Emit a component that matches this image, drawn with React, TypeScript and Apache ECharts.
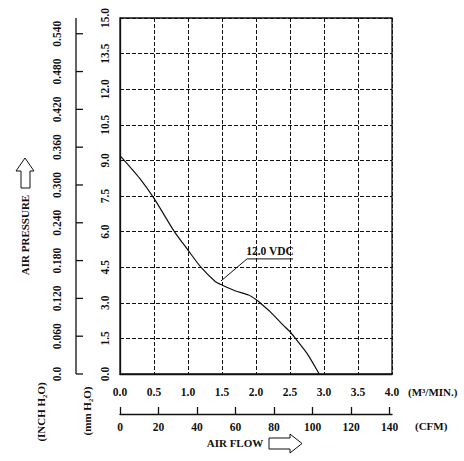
import React, { useEffect, useRef } from "react";
import * as echarts from "echarts";

// Air flow in M³/MIN along the fan curve, and the static pressure in mm H₂O
const flowM3 = [0, 0.29, 0.5, 0.8, 1.0, 1.19, 1.4, 1.5, 1.69, 1.89, 2.0, 2.06, 2.21, 2.4, 2.5, 2.58, 2.75, 2.93];
const pressureMm = [9.2, 8.24, 7.4, 6.0, 5.22, 4.5, 3.9, 3.75, 3.51, 3.33, 3.14, 3.0, 2.62, 2.06, 1.78, 1.5, 0.87, 0];

// Leader line for the voltage callout (flow, pressure)
const calloutFlow = [1.485, 1.868, 2.544];
const calloutPressure = [3.92, 4.85, 4.85];
const calloutLabelAt = [2.206, 4.85];
const calloutText = "12.0 VDC";

// Axis scales
const flowMax = 4.0;
const flowStep = 0.5;
const pressureMax = 15.0;
const pressureStep = 1.5;
const mmTicks = [0, 1.5, 3.0, 4.5, 6.0, 7.5, 9.0, 10.5, 12.0, 13.5, 15.0];
const inchTicks = [0, 0.06, 0.12, 0.18, 0.24, 0.3, 0.36, 0.42, 0.48, 0.54];
const inchMax = 0.565;
const cfmTicks = [0, 20, 40, 60, 80, 100, 120, 140];
const cfmMax = 141.26;

const FONT = "'Liberation Serif', 'Times New Roman', serif";
const INK = "#111";
const MM_LABEL_X = 105;
const INCH_LABEL_X = 57;
const INCH_AXIS_X = 76;

export default function App() {
  const ref = useRef<HTMLDivElement>(null);

  useEffect(() => {
    if (!ref.current) return;
    const chart = echarts.init(ref.current, undefined, { renderer: "svg" });

    const labelStyle = {
      color: INK,
      fontFamily: FONT,
      fontWeight: "bold" as const,
      fontSize: 11.5,
    };

    const curve = flowM3.map((x, i) => [x, pressureMm[i]]);
    const callout = calloutFlow.map((x, i) => [x, calloutPressure[i]]);

    const textStyle = (text: string, align: string, size = 11) => ({
      text,
      fill: INK,
      font: `bold ${size}px ${FONT}`,
      align,
      verticalAlign: "middle",
    });

    const baseGraphic: any[] = [
      {
        type: "text",
        x: 25,
        y: 235,
        rotation: Math.PI / 2,
        style: textStyle("AIR PRESSURE", "center"),
      },
      {
        type: "polygon",
        shape: {
          points: [
            [25, 158],
            [34, 171],
            [30, 171],
            [30, 188],
            [21, 188],
            [21, 171],
            [16, 171],
          ],
        },
        style: { fill: "#fff", stroke: INK, lineWidth: 1 },
      },
      {
        type: "text",
        x: 41,
        y: 412,
        rotation: Math.PI / 2,
        style: textStyle("(INCH H₂O)", "center"),
      },
      {
        type: "text",
        x: 87,
        y: 411,
        rotation: Math.PI / 2,
        style: textStyle("(mm H₂O)", "center"),
      },
      {
        type: "text",
        x: 408,
        y: 392,
        style: textStyle("(M³/MIN.)", "left"),
      },
      {
        type: "text",
        x: 415,
        y: 426,
        style: textStyle("(CFM)", "left"),
      },
      {
        type: "text",
        x: 235,
        y: 443,
        style: textStyle("AIR FLOW", "center"),
      },
      {
        type: "polygon",
        shape: {
          points: [
            [269, 438],
            [290, 438],
            [290, 434],
            [302, 443.5],
            [290, 453],
            [290, 449],
            [269, 449],
          ],
        },
        style: { fill: "#fff", stroke: INK, lineWidth: 1 },
      },
    ];

    try {
      chart.setOption({
        animation: false,
        backgroundColor: "#fff",
        grid: [
          {
            left: 120,
            top: 18,
            width: 272,
            height: 356,
            show: true,
            borderColor: INK,
            borderWidth: 1.3,
            backgroundColor: "transparent",
          },
          // narrow strip carrying the INCH H₂O scale
          { left: INCH_AXIS_X, top: 18, width: 10, height: 356, show: false },
        ],
        xAxis: [
          {
            type: "value",
            gridIndex: 0,
            min: 0,
            max: flowMax,
            interval: flowStep,
            position: "bottom",
            axisLine: { show: true, onZero: false, lineStyle: { color: INK, width: 1.3 } },
            axisTick: { show: false },
            axisLabel: {
              ...labelStyle,
              margin: 12,
              formatter: (v: number) => v.toFixed(1),
            },
            splitLine: {
              show: true,
              lineStyle: { color: INK, type: [4, 2], width: 1 },
            },
          },
          {
            type: "value",
            gridIndex: 0,
            min: 0,
            max: cfmMax,
            position: "bottom",
            offset: 40,
            axisLine: { show: true, onZero: false, lineStyle: { color: INK, width: 1.3 } },
            axisTick: {
              show: true,
              inside: true,
              length: 7,
              customValues: cfmTicks,
              lineStyle: { color: INK, width: 1.3 },
            },
            axisLabel: {
              ...labelStyle,
              margin: 7,
              customValues: cfmTicks,
              formatter: (v: number) => String(v),
            },
            splitLine: { show: false },
          },
          {
            type: "value",
            gridIndex: 1,
            min: 0,
            max: 1,
            show: false,
          },
        ],
        yAxis: [
          {
            type: "value",
            gridIndex: 0,
            min: 0,
            max: pressureMax,
            interval: pressureStep,
            position: "left",
            axisLine: { show: true, onZero: false, lineStyle: { color: INK, width: 1.3 } },
            axisTick: { show: false },
            axisLabel: { show: false },
            splitLine: {
              show: true,
              lineStyle: { color: INK, type: [4, 2], width: 1 },
            },
          },
          {
            type: "value",
            gridIndex: 1,
            min: 0,
            max: inchMax,
            position: "left",
            axisLine: { show: false },
            axisTick: { show: false },
            axisLabel: { show: false },
            splitLine: { show: false },
          },
        ],
        series: [
          {
            type: "line",
            xAxisIndex: 0,
            yAxisIndex: 0,
            data: curve,
            smooth: 0.25,
            showSymbol: false,
            symbol: "none",
            lineStyle: { color: INK, width: 1.2 },
            silent: true,
          },
          {
            type: "line",
            xAxisIndex: 0,
            yAxisIndex: 0,
            data: callout,
            symbol: "none",
            lineStyle: { color: INK, width: 1 },
            silent: true,
            markPoint: {
              silent: true,
              symbol: "rect",
              symbolSize: [1, 1],
              itemStyle: { color: "rgba(0,0,0,0)" },
              label: {
                show: true,
                position: "top",
                distance: 1,
                formatter: calloutText,
                ...labelStyle,
              },
              data: [{ coord: calloutLabelAt }],
            },
          },
        ],
        graphic: baseGraphic,
      });
    } catch (e) {
      // keep going so the vertical scales are still placed
    }

    // Vertical scales, placed with each axis' own value-to-pixel mapping
    const toY = (axis: number, v: number) => {
      const p = chart.convertToPixel({ yAxisIndex: axis }, v);
      return typeof p === "number" ? p : Array.isArray(p) ? (p as number[])[1] : NaN;
    };
    const mmLabels = mmTicks.map((v) => ({
      type: "text",
      x: MM_LABEL_X,
      y: toY(0, v),
      rotation: Math.PI / 2,
      style: textStyle(v.toFixed(1), "center", 11.5),
    }));
    const inchLabels = inchTicks.map((v) => ({
      type: "text",
      x: INCH_LABEL_X,
      y: toY(1, v),
      rotation: Math.PI / 2,
      style: textStyle(v === 0 ? "0.0" : v.toFixed(3), "center", 11.5),
    }));
    const inchLine = {
      type: "line",
      shape: {
        x1: INCH_AXIS_X,
        y1: toY(1, inchMax),
        x2: INCH_AXIS_X,
        y2: toY(1, 0),
      },
      style: { stroke: INK, lineWidth: 1.3 },
    };
    const inchTickMarks = inchTicks.map((v) => {
      const y = toY(1, v);
      return {
        type: "line",
        shape: { x1: INCH_AXIS_X, y1: y, x2: INCH_AXIS_X + 7, y2: y },
        style: { stroke: INK, lineWidth: 1.3 },
      };
    });
    chart.setOption({
      graphic: [...baseGraphic, ...mmLabels, ...inchLabels, inchLine, ...inchTickMarks],
    });

    return () => chart.dispose();
  }, []);

  return <div ref={ref} style={{ width: 464, height: 461, position: "absolute", left: 0, top: 0 }} />;
}
